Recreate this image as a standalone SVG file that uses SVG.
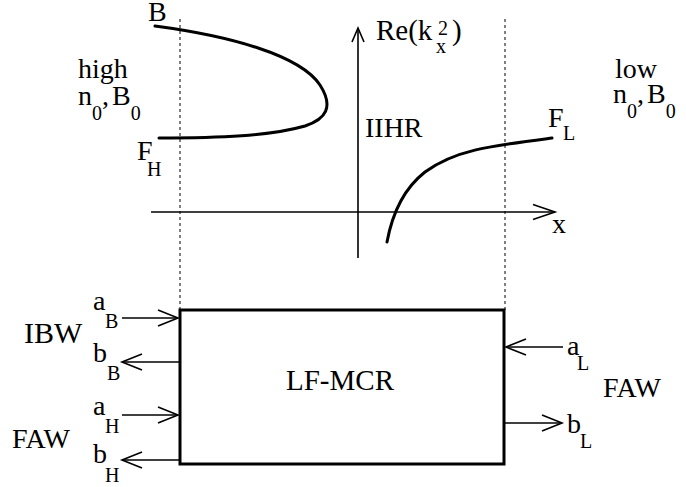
<svg xmlns="http://www.w3.org/2000/svg" width="686" height="487" viewBox="0 0 686 487">
<style>
text{font-family:"Liberation Serif","Times New Roman",serif;font-size:28px;fill:#000}
.sub{font-size:20px}
.ln{stroke:#000;stroke-width:1.6;fill:none}
.dash{stroke:#000;stroke-width:1;stroke-dasharray:3,3;fill:none}
.curve{stroke:#000;stroke-width:3;fill:none;stroke-linecap:round}
.box{stroke:#000;stroke-width:3;fill:#fff}
</style>
<defs>
<marker id="ah" markerUnits="userSpaceOnUse" markerWidth="30" markerHeight="30" refX="0" refY="0" orient="auto" overflow="visible">
<path d="M-20,-8 L0,0 L-20,8" fill="none" stroke="#000" stroke-width="1.6"/>
</marker>
<marker id="ahAxisX" markerUnits="userSpaceOnUse" markerWidth="30" markerHeight="30" refX="0" refY="0" orient="auto" overflow="visible">
<path d="M-22,-7.5 L0,0 L-22,7.5" fill="none" stroke="#000" stroke-width="1.6"/>
</marker>
<marker id="ahAxisY" markerUnits="userSpaceOnUse" markerWidth="30" markerHeight="30" refX="0" refY="0" orient="auto" overflow="visible">
<path d="M-14,-6 L0,0 L-14,6" fill="none" stroke="#000" stroke-width="1.6"/>
</marker>
</defs>

<g id="guides">
<line class="dash" x1="180" y1="19" x2="180" y2="310"/>
<line class="dash" x1="505" y1="19" x2="505" y2="310"/>
</g>

<g id="axes">
<line class="ln" x1="358" y1="258" x2="358" y2="28" marker-end="url(#ahAxisY)"/>
<line class="ln" x1="151" y1="212" x2="555" y2="212" marker-end="url(#ahAxisX)"/>
<text x="376" y="40" style="font-size:29px">Re(k</text>
<text class="sub" x="436" y="53">x</text>
<text class="sub" x="438" y="35">2</text>
<text x="452" y="40" style="font-size:29px">)</text>
<text x="552" y="233">x</text>
<text x="365" y="137">IIHR</text>
</g>

<g id="curve-B">
<path class="curve" d="M155,26 C230,36 300,55 320,85 C334,107 326,119 305,126 C270,136 220,138 159,138"/>
<text x="148" y="21">B</text>
<text x="137" y="160">F</text>
<text class="sub" x="147" y="176">H</text>
</g>

<g id="curve-FL">
<path class="curve" d="M387,242 C392,215 402,190 425,172 C455,150 490,146 552,138"/>
<text x="548" y="127">F</text>
<text class="sub" x="563" y="140">L</text>
</g>

<g id="label-high">
<text x="78" y="78">high</text>
<text x="78" y="105">n<tspan class="sub" dy="15">0</tspan><tspan dy="-15">,</tspan><tspan dx="3">B</tspan><tspan class="sub" dy="15">0</tspan></text>
</g>

<g id="label-low">
<text x="615" y="78">low</text>
<text x="613" y="103">n<tspan class="sub" dy="15">0</tspan><tspan dy="-15">,</tspan><tspan dx="3">B</tspan><tspan class="sub" dy="15">0</tspan></text>
</g>

<g id="lf-mcr">
<rect class="box" x="180" y="310" width="324" height="154"/>
<text x="286" y="390" style="font-size:29px">LF-MCR</text>
</g>

<g id="connectors">
<line class="ln" x1="122" y1="318" x2="178" y2="318" marker-end="url(#ah)"/>
<line class="ln" x1="180" y1="362" x2="122" y2="362" marker-end="url(#ah)"/>
<line class="ln" x1="122" y1="415" x2="178" y2="415" marker-end="url(#ah)"/>
<line class="ln" x1="180" y1="460" x2="122" y2="460" marker-end="url(#ah)"/>
<line class="ln" x1="563" y1="347" x2="506" y2="347" marker-end="url(#ah)"/>
<line class="ln" x1="504" y1="423" x2="562" y2="423" marker-end="url(#ah)"/>
</g>

<g id="port-labels-left">
<text x="24" y="343" style="font-size:30px">IBW</text>
<text x="12" y="448">FAW</text>
<text x="93" y="310">a</text><text class="sub" x="105" y="328">B</text>
<text x="93" y="362">b</text><text class="sub" x="107" y="380">B</text>
<text x="93" y="415">a</text><text class="sub" x="105" y="433">H</text>
<text x="93" y="463">b</text><text class="sub" x="105" y="482">H</text>
</g>

<g id="port-labels-right">
<text x="567" y="355">a</text><text class="sub" x="577" y="370">L</text>
<text x="603" y="397">FAW</text>
<text x="567" y="433">b</text><text class="sub" x="580" y="448">L</text>
</g>
</svg>
